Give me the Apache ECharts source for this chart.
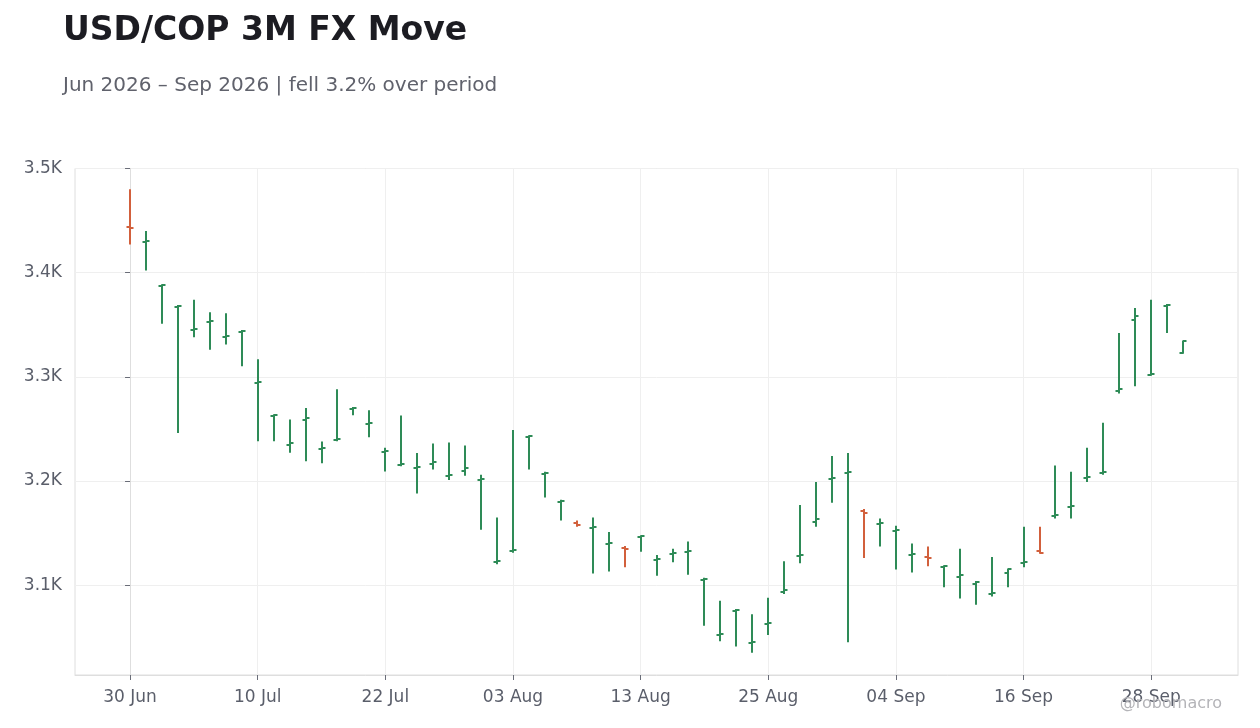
<!DOCTYPE html>
<html>
<head>
<meta charset="utf-8">
<script src="https://cdn.jsdelivr.net/npm/echarts@6/dist/echarts.min.js"></script>
<style>
  html, body { margin: 0; padding: 0; background: #ffffff; }
  #chart { width: 1260px; height: 728px; }
</style>
</head>
<body>
<div id="chart"></div>
<script>
// Business days, 30 Jun 2026 – 30 Sep 2026
const dates = [
  '2026-06-30',
  '2026-07-01','2026-07-02','2026-07-03','2026-07-06','2026-07-07','2026-07-08','2026-07-09','2026-07-10',
  '2026-07-13','2026-07-14','2026-07-15','2026-07-16','2026-07-17','2026-07-20','2026-07-21','2026-07-22',
  '2026-07-23','2026-07-24','2026-07-27','2026-07-28','2026-07-29','2026-07-30','2026-07-31',
  '2026-08-03','2026-08-04','2026-08-05','2026-08-06','2026-08-07','2026-08-10','2026-08-11','2026-08-12',
  '2026-08-13','2026-08-14','2026-08-17','2026-08-18','2026-08-19','2026-08-20','2026-08-21','2026-08-24',
  '2026-08-25','2026-08-26','2026-08-27','2026-08-28','2026-08-31',
  '2026-09-01','2026-09-02','2026-09-03','2026-09-04','2026-09-07','2026-09-08','2026-09-09','2026-09-10',
  '2026-09-11','2026-09-14','2026-09-15','2026-09-16','2026-09-17','2026-09-18','2026-09-21','2026-09-22',
  '2026-09-23','2026-09-24','2026-09-25','2026-09-28','2026-09-29','2026-09-30'
];

const opens = [
  3444, 3429, 3387, 3367, 3345, 3353, 3338, 3343, 3294, 3262,
  3235, 3259, 3231, 3239, 3269, 3255, 3228, 3215, 3212, 3216,
  3205, 3210, 3201, 3122, 3133, 3242, 3207, 3180, 3160, 3155,
  3139, 3136, 3146, 3124, 3130, 3132, 3105, 3052, 3075, 3044,
  3063, 3093, 3128, 3161, 3202, 3208, 3171, 3159, 3152, 3129,
  3127, 3117, 3108, 3101, 3091, 3112, 3121, 3133, 3166, 3175,
  3203, 3208, 3286, 3355, 3302, 3368, 3323
];
const highs = [
  3479, 3439, 3388, 3368, 3373, 3361, 3360, 3344, 3316, 3263,
  3258, 3269, 3237, 3287, 3270, 3267, 3231, 3262, 3226, 3235,
  3236, 3233, 3205, 3164, 3248, 3243, 3208, 3181, 3161, 3164,
  3150, 3136.5, 3147, 3128, 3134, 3141, 3106, 3084, 3076, 3071,
  3087, 3122, 3176, 3198, 3223, 3226, 3172, 3163, 3156, 3139,
  3136, 3118, 3134, 3103, 3126, 3115, 3155, 3155, 3214, 3208,
  3231, 3255, 3341, 3365, 3373, 3369, 3334
];
const lows = [
  3428, 3403, 3352, 3247, 3339, 3327, 3332, 3311, 3239, 3239,
  3228, 3220, 3218, 3239, 3264, 3243, 3210, 3215, 3189, 3212,
  3202, 3206, 3154, 3121, 3132, 3212, 3185, 3163, 3157, 3112,
  3114, 3118, 3133, 3110, 3123, 3111, 3062, 3047, 3042, 3036,
  3053, 3092.5, 3122, 3157, 3180, 3046, 3127, 3138, 3116, 3113,
  3119, 3099, 3088, 3082, 3090, 3099, 3118, 3131, 3165, 3165,
  3200, 3207, 3285, 3292, 3302, 3343, 3323
];
const closes = [
  3443, 3430, 3388, 3368, 3346, 3353.5, 3339, 3344, 3295, 3263,
  3236, 3260, 3232, 3240, 3270, 3256, 3229, 3216, 3213, 3218,
  3206, 3212, 3202, 3123, 3134, 3243, 3208, 3181, 3158, 3156,
  3140, 3135, 3147, 3125, 3131, 3133, 3106, 3053, 3076, 3045,
  3064, 3095, 3129, 3163, 3203, 3209, 3169, 3160, 3153, 3130,
  3126, 3118, 3110, 3103, 3092, 3115, 3122, 3131, 3167, 3176,
  3204, 3209, 3288, 3358, 3303, 3369, 3334
];

const yTicks = [3100, 3200, 3300, 3400, 3500];
const xLabelIdx = [0, 8, 16, 24, 32, 40, 48, 56, 64];
const monthNames = ['Jan','Feb','Mar','Apr','May','Jun','Jul','Aug','Sep','Oct','Nov','Dec'];

const UP = '#2e8b57';
const DOWN = '#d2603c';
const FONT = 'DejaVu Sans';

function fmtDate(s) {
  const p = s.split('-');
  return p[2] + ' ' + monthNames[parseInt(p[1], 10) - 1];
}

const ohlc = dates.map((d, i) => [i, opens[i], closes[i], lows[i], highs[i]]);

const chart = echarts.init(document.getElementById('chart'), null, { renderer: 'canvas' });

chart.setOption({
  backgroundColor: '#ffffff',
  animation: false,
  textStyle: { fontFamily: FONT },
  title: [
    {
      text: 'USD/COP 3M FX Move',
      left: 58, top: 10,
      textStyle: { fontFamily: FONT, fontSize: 33, fontWeight: 'bold', color: '#1c1c22' }
    },
    {
      text: 'Jun 2026 \u2013 Sep 2026 | fell 3.2% over period',
      left: 58, top: 71,
      textStyle: { fontFamily: FONT, fontSize: 20, fontWeight: 'normal', color: '#60626c' }
    }
  ],
  graphic: [{
    type: 'text',
    x: 1222, y: 704,
    style: {
      text: '@robomacro',
      fill: '#b4b4b8',
      font: '16px "DejaVu Sans"',
      textAlign: 'right',
      textVerticalAlign: 'middle'
    },
    z: 100
  }],
  grid: {
    left: 75, right: 22, top: 168.5, bottom: 53,
    show: true, borderColor: '#dedede', borderWidth: 1, backgroundColor: 'transparent'
  },
  xAxis: {
    type: 'value',
    min: -3.45,
    max: 69.44,
    axisLine: { show: true, lineStyle: { color: '#dedede', width: 1 } },
    axisTick: { show: true, length: 5, customValues: xLabelIdx, lineStyle: { color: '#6a6d78' } },
    axisLabel: {
      customValues: xLabelIdx,
      margin: 14,
      fontSize: 17,
      color: '#5a5e6a',
      fontFamily: FONT,
      formatter: v => (dates[Math.round(v)] ? fmtDate(dates[Math.round(v)]) : '')
    },
    splitLine: { show: true, lineStyle: { color: '#efefef', width: 1 } }
  },
  yAxis: {
    type: 'value',
    min: 3013.7,
    max: 3500,
    axisLine: { show: true, lineStyle: { color: '#dedede', width: 1 } },
    axisTick: { show: true, length: 5, customValues: yTicks, lineStyle: { color: '#6a6d78' } },
    axisLabel: {
      customValues: yTicks,
      margin: 13,
      fontSize: 17,
      color: '#5a5e6a',
      fontFamily: FONT,
      formatter: v => (v / 1000).toFixed(1) + 'K'
    },
    splitLine: { show: true, lineStyle: { color: '#efefef', width: 1 } }
  },
  series: [{
    type: 'custom',
    data: ohlc,
    encode: { x: 0, y: [1, 2, 3, 4] },
    clip: true,
    renderItem: function (params, api) {
      const x = api.value(0);
      const o = api.value(1), c = api.value(2), l = api.value(3), h = api.value(4);
      const po = api.coord([x, o]);
      const pc = api.coord([x, c]);
      const pl = api.coord([x, l]);
      const ph = api.coord([x, h]);
      const color = c >= o ? UP : DOWN;
      const st = { stroke: color, lineWidth: 2 };
      const tick = 3.5;
      const cx = Math.round(ph[0]);
      const yo = Math.round(po[1]);
      const yc = Math.round(pc[1]);
      return {
        type: 'group',
        children: [
          { type: 'line', shape: { x1: cx, y1: ph[1] - 1, x2: cx, y2: pl[1] + 1 }, style: st },
          { type: 'line', shape: { x1: cx - tick, y1: yo, x2: cx, y2: yo }, style: st },
          { type: 'line', shape: { x1: cx, y1: yc, x2: cx + tick, y2: yc }, style: st }
        ]
      };
    }
  }]
});
</script>
</body>
</html>
